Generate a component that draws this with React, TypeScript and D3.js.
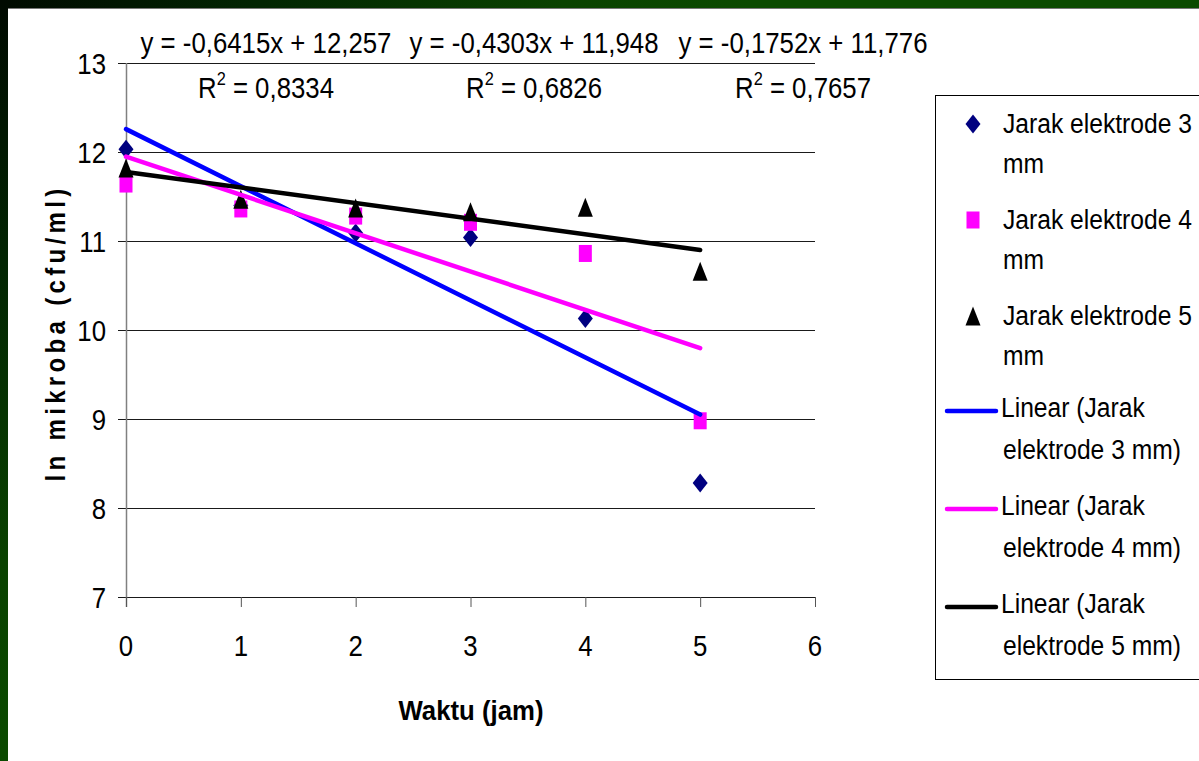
import React from "react";
import * as d3 from "d3";

// Time in hours
const waktu = [0, 1, 2, 3, 4, 5];

// ln microbe counts per electrode gap
const jarak3 = [12.03, 11.4, 11.09, 11.04, 10.13, 8.28];
const jarak4 = [11.64, 11.36, 11.28, 11.21, 10.86, 8.98];
const jarak5 = [11.82, 11.47, 11.37, 11.33, 11.38, 10.66];

// Linear trend coefficients and fit quality
const slopes = [-0.6415, -0.4303, -0.1752];
const intercepts = [12.257, 11.948, 11.776];
const rSquared = [0.8334, 0.6826, 0.7657];

const seriesNames = ["Jarak elektrode 3", "Jarak elektrode 4", "Jarak elektrode 5"];
const trendNames = ["elektrode 3 mm)", "elektrode 4 mm)", "elektrode 5 mm)"];

const xTicks = [0, 1, 2, 3, 4, 5, 6];
const yTicks = [7, 8, 9, 10, 11, 12, 13];

const markerColors = ["#000080", "#ff00ff", "#000000"];
const lineColors = ["#0000ff", "#ff00ff", "#000000"];

const FONT = "'Liberation Sans', Arial, Helvetica, sans-serif";

const fmt = (v: number) => String(Math.abs(v)).replace(".", ",");

function T({
  x,
  y,
  size = 30,
  sx = 0.86,
  anchor = "start",
  weight = "normal",
  rotate = 0,
  spacing = 0,
  children,
}: any) {
  return (
    <g transform={`translate(${x},${y}) rotate(${rotate}) scale(${sx},1)`}>
      <text
        x={0}
        y={0}
        fontSize={size}
        fontFamily={FONT}
        fontWeight={weight}
        textAnchor={anchor}
        letterSpacing={spacing}
        fill="#000"
      >
        {children}
      </text>
    </g>
  );
}

function Marker({ kind, cx, cy, color }: any) {
  if (kind === 0) {
    const w = 7.5, h = 9.5;
    return <path d={`M${cx},${cy - h}L${cx + w},${cy}L${cx},${cy + h}L${cx - w},${cy}Z`} fill={color} />;
  }
  if (kind === 1) {
    return <rect x={cx - 6.5} y={cy - 8.5} width={13} height={17} fill={color} />;
  }
  return <path d={`M${cx},${cy - 9.5}L${cx + 7.5},${cy + 9.5}L${cx - 7.5},${cy + 9.5}Z`} fill={color} />;
}

export default function App() {
  const W = 1199, H = 761;
  const x = d3.scaleLinear().domain([0, 6]).range([126, 815]);
  const y = d3.scaleLinear().domain([7, 13]).range([597, 63]);

  const series = [jarak3, jarak4, jarak5];

  const trendPath = (k: number) => {
    const pts: [number, number][] = [0, 5].map((t) => [x(t), y(intercepts[k] + slopes[k] * t)]);
    return d3.line()(pts) as string;
  };

  const eqCenters = [266, 534, 803];

  return (
    <svg
      width={W}
      height={H}
      style={{ position: "absolute", left: 0, top: 0, display: "block" }}
    >
      <defs>
        <radialGradient id="frameGrad" gradientUnits="userSpaceOnUse" cx={0} cy={0} r={750}>
          <stop offset="0" stopColor="#000a00" />
          <stop offset="0.35" stopColor="#022502" />
          <stop offset="0.75" stopColor="#0a4200" />
          <stop offset="1" stopColor="#0b4a00" />
        </radialGradient>
      </defs>
      <rect x={0} y={0} width={W} height={H} fill="url(#frameGrad)" />
      <rect x={8} y={8} width={W - 8} height={H - 8} fill="#ffffff" />
      <line x1={8} x2={W} y1={8.5} y2={8.5} stroke="#777" strokeWidth={1} />

      {/* horizontal gridlines */}
      {yTicks.map((t) => (
        <line key={`g${t}`} x1={118} x2={815} y1={y(t) + 0.5} y2={y(t) + 0.5} stroke="#1a1a1a" strokeWidth={1.2} />
      ))}
      {/* y axis */}
      <line x1={126.5} x2={126.5} y1={63} y2={607} stroke="#808080" strokeWidth={1.5} />
      {/* x ticks */}
      {xTicks.map((t) => (
        <line key={`xt${t}`} x1={x(t) + 0.5} x2={x(t) + 0.5} y1={597} y2={607} stroke="#555" strokeWidth={1} />
      ))}

      {/* tick labels */}
      {yTicks.map((t) => (
        <T key={`yl${t}`} x={106} y={y(t) + 11} anchor="end">
          {t}
        </T>
      ))}
      {xTicks.map((t) => (
        <T key={`xl${t}`} x={x(t)} y={656} anchor="middle">
          {t}
        </T>
      ))}

      {/* axis titles */}
      <T x={471} y={720} size={28} sx={0.92} weight="bold" anchor="middle">
        Waktu (jam)
      </T>
      <T x={65} y={333} size={28} sx={0.86} weight="bold" anchor="middle" rotate={-90} spacing={5}>
        ln mikroba (cfu/ml)
      </T>

      {/* data markers */}
      {series.map((vals, k) =>
        vals.map((v, i) => (
          <Marker key={`m${k}-${i}`} kind={k} cx={x(waktu[i])} cy={y(v)} color={markerColors[k]} />
        ))
      )}

      {/* linear trends */}
      {[0, 1, 2].map((k) => (
        <path key={`tr${k}`} d={trendPath(k)} stroke={lineColors[k]} strokeWidth={4.5} fill="none" strokeLinecap="round" />
      ))}

      {/* trend equations */}
      {[0, 1, 2].map((k) => (
        <g key={`eq${k}`}>
          <T x={eqCenters[k]} y={53} anchor="middle">
            {`y = -${fmt(slopes[k])}x + ${fmt(intercepts[k])}`}
          </T>
          <T x={eqCenters[k]} y={98} anchor="middle">
            R
            <tspan fontSize={19} dy={-13}>2</tspan>
            <tspan dy={13}>{` = ${fmt(rSquared[k])}`}</tspan>
          </T>
        </g>
      ))}

      {/* legend */}
      <rect x={935.5} y={95.5} width={300} height={584} fill="#fff" stroke="#000" strokeWidth={1} />
      {[0, 1, 2].map((k) => {
        const base = 133 + 96 * k;
        return (
          <g key={`lg${k}`}>
            <Marker kind={k} cx={973} cy={base - 9} color={markerColors[k]} />
            <T x={1003} y={base} size={28} sx={0.88}>
              {seriesNames[k]}
            </T>
            <T x={1003} y={base + 40} size={28} sx={0.88}>
              mm
            </T>
          </g>
        );
      })}
      {[0, 1, 2].map((k) => {
        const base = 417 + 98 * k;
        return (
          <g key={`lt${k}`}>
            <line x1={947} x2={996} y1={base - 6} y2={base - 6} stroke={lineColors[k]} strokeWidth={4.5} strokeLinecap="round" />
            <T x={1001} y={base} size={28} sx={0.88}>
              Linear (Jarak
            </T>
            <T x={1003} y={base + 42} size={28} sx={0.88}>
              {trendNames[k]}
            </T>
          </g>
        );
      })}
    </svg>
  );
}
